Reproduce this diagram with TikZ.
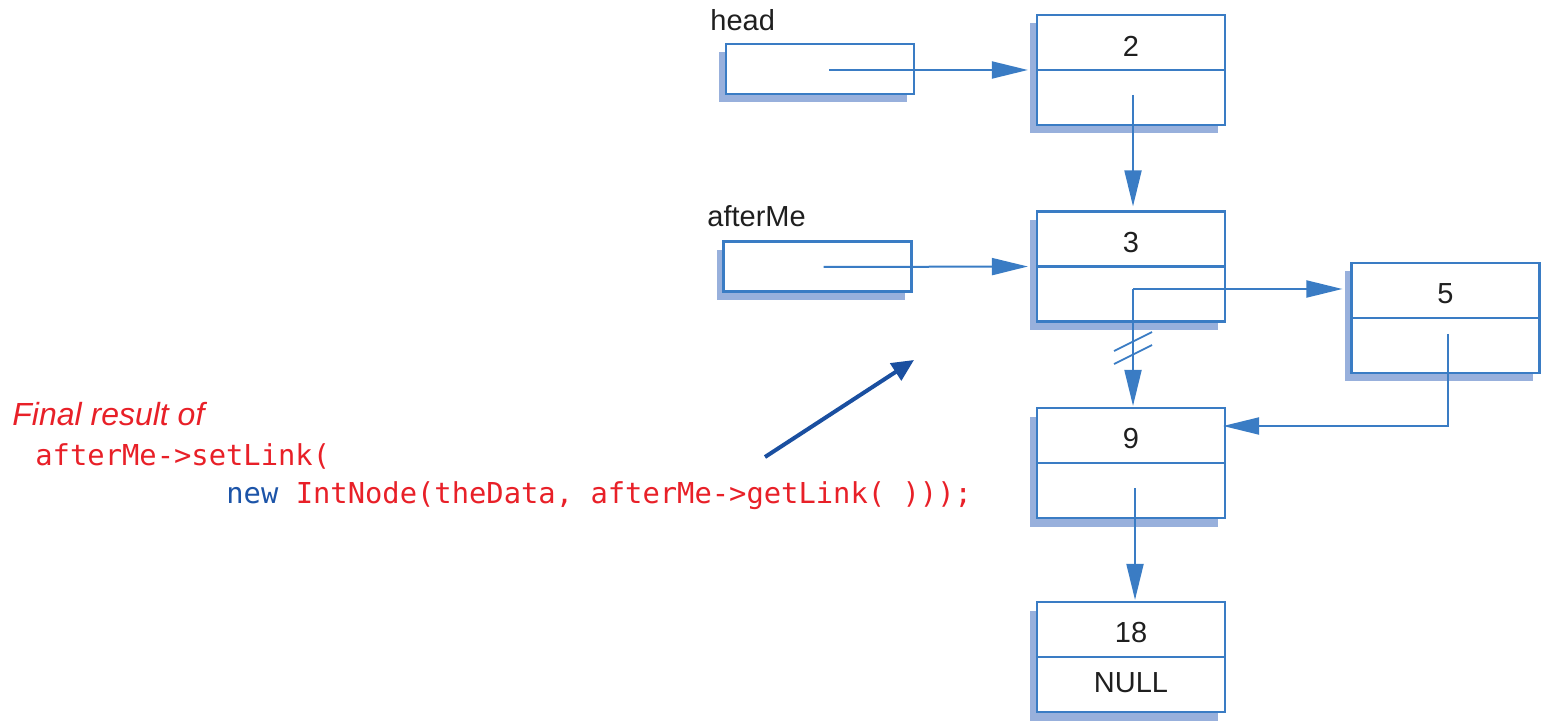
\documentclass[tikz,border=0pt]{standalone}
\usepackage{fontspec}
\setmainfont{Liberation Sans}
\newfontfamily\codefont{DejaVu Sans Mono}
\usetikzlibrary{arrows.meta,shadows,calc}

\definecolor{boxblue}{RGB}{58,124,196}
\definecolor{shadowblue}{RGB}{152,176,220}
\definecolor{codered}{RGB}{232,32,40}
\definecolor{keyblue}{RGB}{28,84,168}
\definecolor{noteblue}{RGB}{26,79,160}

\tikzset{
  cell/.style={draw=boxblue, line width=1.1pt, fill=white,
    minimum width=94pt, minimum height=55pt, inner sep=0pt,
    drop shadow={shadow xshift=-3.5pt, shadow yshift=-4.25pt,
      fill=shadowblue, opacity=1}},
  ptrbox/.style={cell, minimum height=25pt},
  divider/.style={draw=boxblue, line width=1.1pt},
  link/.style={draw=boxblue, line width=1pt,
    -{Triangle[length=18pt,width=8.5pt]}},
  slash/.style={draw=boxblue, line width=0.9pt},
  note/.style={draw=noteblue, line width=2pt,
    -{Triangle[length=11pt,width=10pt]}},
  val/.style={inner sep=0pt, text=black!88,
    font=\fontsize{14.5}{16}\selectfont},
  digit/.style={val, yshift=-2pt},
  caption/.style={inner sep=0pt, anchor=base west, text=codered,
    font=\fontsize{16}{18}\selectfont\itshape},
  code/.style={inner sep=0pt, anchor=base west, text=codered,
    font=\codefont\fontsize{14.4}{16}\selectfont},
}

\begin{document}
\begin{tikzpicture}[x=0.5pt,y=-0.5pt]
\useasboundingbox (0,0) rectangle (1546,721);

% pointer variables
\node[ptrbox] (head) at (820,69) {};
\node[ptrbox] (after) at (817.5,266.5) {};
\node[val, anchor=base west] (lhead) at (710,31) {head};
\node[val, anchor=base west] (lafter) at (707,227) {afterMe};

% list nodes
\node[cell] (n2) at (1131,70) {};
\node[cell] (n3) at (1131,266.5) {};
\node[cell] (n5) at (1445.5,318) {};
\node[cell] (n9) at (1131,463) {};
\node[cell] (n18) at (1131,657) {};

\foreach \n in {n2,n3,n5,n9,n18}
  \draw[divider] (\n.west) -- (\n.east);

\node[digit] (v2) at ($(n2.north)!0.5!(n2.center)$) {2};
\node[digit] (v3) at ($(n3.north)!0.5!(n3.center)$) {3};
\node[digit] (v5) at ($(n5.north)!0.5!(n5.center)$) {5};
\node[digit] (v9) at ($(n9.north)!0.5!(n9.center)$) {9};
\node[digit] (v18) at ($(n18.north)!0.5!(n18.center)$) {18};
\node[val, yshift=1pt] (vnull) at ($(n18.south)!0.5!(n18.center)$) {NULL};

% links
\coordinate (hs) at (829,70);
\coordinate (as) at (823.5,267);
\coordinate (s2) at (1133,95);
\coordinate (c3) at (1133,289);
\coordinate (s5) at (1447.5,334);
\coordinate (b5) at (1447.5,426);
\coordinate (s9) at (1135,488);

\draw[link, shorten >=4pt] (hs) -- (n2.west);
\draw[link, shorten >=4pt] (as) -- (n3.west);
\draw[link, shorten >=2pt] (s2) -- (s2 |- n3.north);
\draw[link, shorten >=4pt] (c3) -- (c3 -| n5.west);
\draw[link, shorten >=0.5pt] (c3) -- (c3 |- n9.north);
\draw[link, shorten >=-1.5pt] (s5) -- (b5) -- (b5 -| n9.east);
\draw[link, shorten >=0.5pt] (s9) -- (s9 |- n18.north);

% broken old link
\coordinate (k1) at (1133,341.5);
\coordinate (k2) at (1133,354.5);
\draw[slash] ($(k1)+(-19,9.5)$) -- ($(k1)+(19,-9.5)$);
\draw[slash] ($(k2)+(-19,9.5)$) -- ($(k2)+(19,-9.5)$);

% annotation
\node[caption] (cap) at (12,425) {Final result of};
\node[code] (c1) at (35,465) {afterMe->setLink(};
\node[code] (c2) at (226,503) {\textcolor{keyblue}{new} IntNode(theData, afterMe->getLink( )));};
\coordinate (ns) at (765,457);
\coordinate (ne) at (914,360);
\draw[note] (ns) -- (ne);
\end{tikzpicture}
\end{document}
